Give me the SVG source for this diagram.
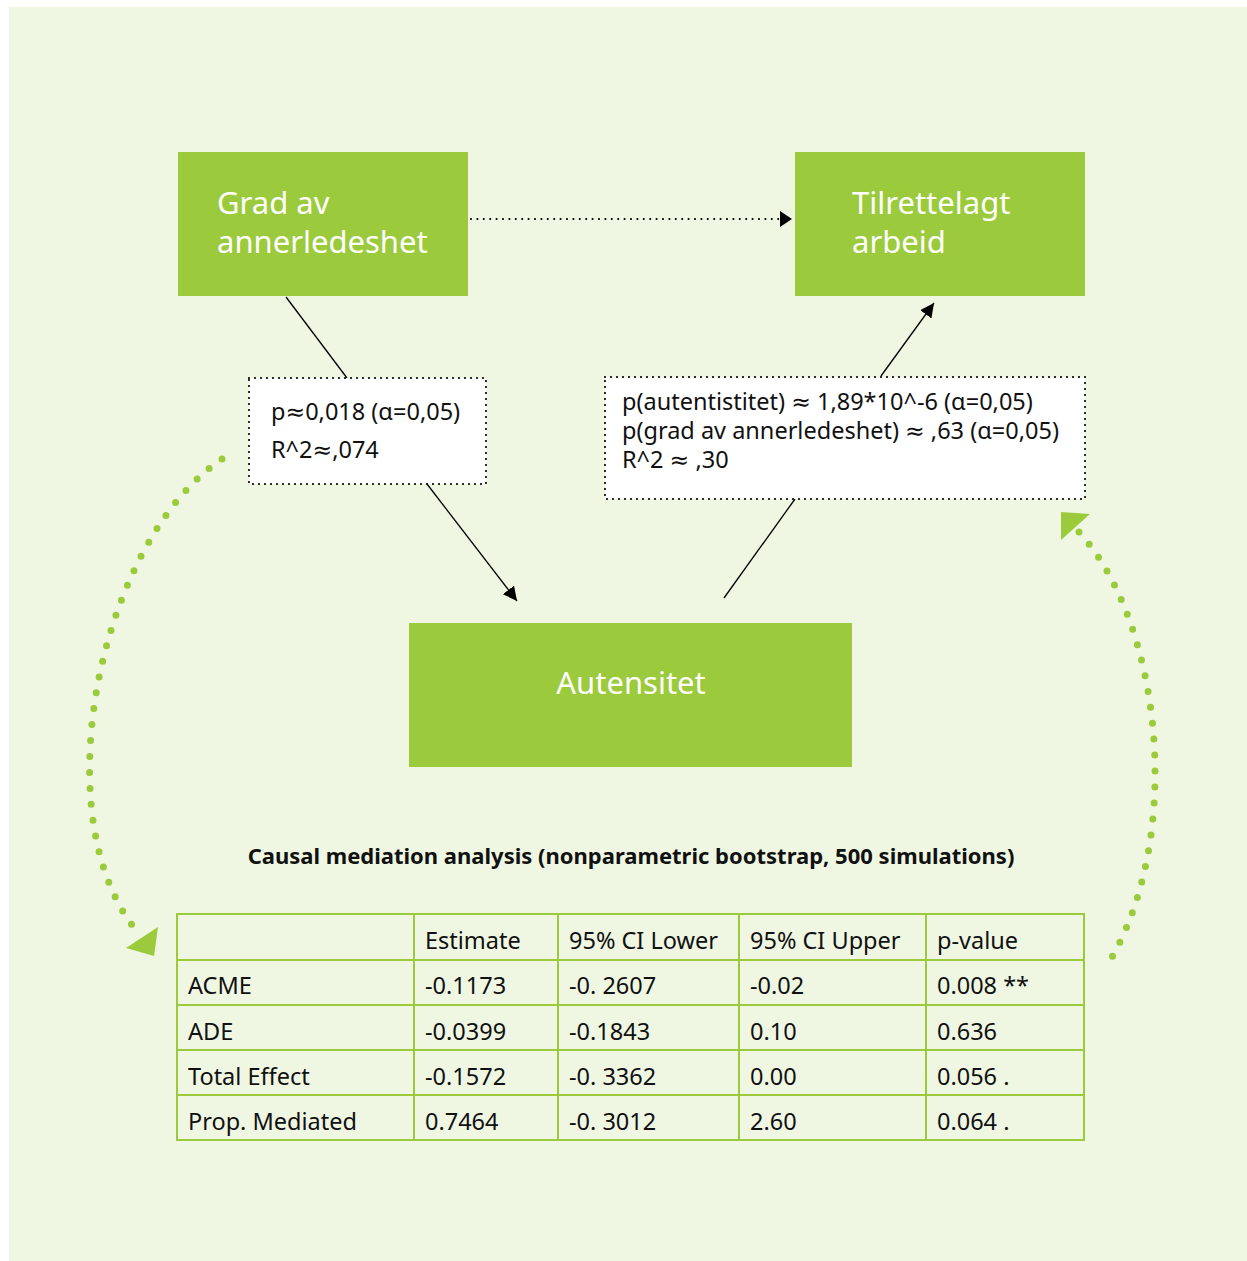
<svg xmlns="http://www.w3.org/2000/svg" width="1247" height="1261" viewBox="0 0 1247 1261">
<defs>
<style>
.node{fill:#9BCB3C}
.ntext{font-family:"Noto Sans","DejaVu Sans",sans-serif;font-size:31px;fill:#ffffff}
.lbox{fill:#ffffff;stroke:#000;stroke-width:2.2;stroke-dasharray:0 6;stroke-linecap:round}
.ltext{font-family:"Noto Sans","DejaVu Sans",sans-serif;font-size:23.5px;fill:#111}
.edge{fill:none;stroke:#000;stroke-width:1.3}
.dotted{fill:none;stroke:#000;stroke-width:2.2;stroke-dasharray:0 6.4;stroke-linecap:round}
.garc{fill:none;stroke:#9BCB3C;stroke-width:7;stroke-dasharray:0 16;stroke-linecap:round}
.gtri{fill:#9BCB3C}
.tline{stroke:#9BCB3C;stroke-width:2;fill:none}
.ttext{font-family:"Noto Sans","DejaVu Sans",sans-serif;font-size:23.5px;fill:#111}
.title{font-family:"Noto Sans","DejaVu Sans",sans-serif;font-size:22px;font-weight:bold;fill:#111}
</style>
<marker id="ahb" viewBox="0 0 10 10" refX="10" refY="5" markerWidth="14" markerHeight="14" markerUnits="userSpaceOnUse" orient="auto">
<path d="M0,0 L10,5 L0,10 Z" fill="#000"/>
</marker>
</defs>
<rect x="0" y="0" width="1247" height="1261" fill="#ffffff"/>
<rect x="9" y="7" width="1238" height="1254" fill="#EFF7E3"/>

<g id="connectors">
<path class="dotted" d="M471,219 L780,219"/>
<path d="M780,211 L792,219 L780,227 Z" fill="#000"/>
<path class="edge" d="M286,297 L347,378"/>
<path class="edge" d="M427,484 L517,601" marker-end="url(#ahb)"/>
<path class="edge" d="M724,598 L795,499"/>
<path class="edge" d="M881,376 L934,303" marker-end="url(#ahb)"/>
<path class="garc" d="M222,459 C100,540 40,820 140,935"/>
<polygon class="gtri" points="126,948 158,927 154,956"/>
<path class="garc" d="M1079,532 C1160,620 1185,830 1111,959"/>
<polygon class="gtri" points="1061,512 1090,514 1061,540"/>
</g>

<g id="node-grad">
<rect class="node" x="178" y="152" width="290" height="144"/>
<text class="ntext" x="217" y="214">Grad av</text>
<text class="ntext" x="217" y="253">annerledeshet</text>
</g>

<g id="node-tilrettelagt">
<rect class="node" x="795" y="152" width="290" height="144"/>
<text class="ntext" x="852" y="214">Tilrettelagt</text>
<text class="ntext" x="852" y="253">arbeid</text>
</g>

<g id="node-autensitet">
<rect class="node" x="409" y="623" width="443" height="144"/>
<text class="ntext" x="631" y="694" text-anchor="middle">Autensitet</text>
</g>

<g id="label-a">
<rect class="lbox" x="249" y="378" width="237" height="106"/>
<text class="ltext" x="271" y="420">p≈0,018 (α=0,05)</text>
<text class="ltext" x="271" y="458">R^2≈,074</text>
</g>

<g id="label-b">
<rect class="lbox" x="605" y="377" width="480" height="122"/>
<text class="ltext" x="622" y="410">p(autentistitet) ≈ 1,89*10^-6 (α=0,05)</text>
<text class="ltext" x="622" y="439">p(grad av annerledeshet) ≈ ,63 (α=0,05)</text>
<text class="ltext" x="622" y="468">R^2 ≈ ,30</text>
</g>

<g id="title">
<text class="title" x="631" y="864" text-anchor="middle">Causal mediation analysis (nonparametric bootstrap, 500 simulations)</text>
</g>

<g id="table">
<rect class="tline" x="177" y="914" width="907" height="226"/>
<line class="tline" x1="177" y1="960" x2="1084" y2="960"/>
<line class="tline" x1="177" y1="1005" x2="1084" y2="1005"/>
<line class="tline" x1="177" y1="1050" x2="1084" y2="1050"/>
<line class="tline" x1="177" y1="1095" x2="1084" y2="1095"/>
<line class="tline" x1="414" y1="914" x2="414" y2="1140"/>
<line class="tline" x1="558" y1="914" x2="558" y2="1140"/>
<line class="tline" x1="739" y1="914" x2="739" y2="1140"/>
<line class="tline" x1="926" y1="914" x2="926" y2="1140"/>
<text class="ttext" x="425" y="949">Estimate</text>
<text class="ttext" x="569" y="949">95% CI Lower</text>
<text class="ttext" x="750" y="949">95% CI Upper</text>
<text class="ttext" x="937" y="949">p-value</text>
<text class="ttext" x="188" y="994">ACME</text>
<text class="ttext" x="425" y="994">-0.1173</text>
<text class="ttext" x="569" y="994">-0. 2607</text>
<text class="ttext" x="750" y="994">-0.02</text>
<text class="ttext" x="937" y="994">0.008 **</text>
<text class="ttext" x="188" y="1040">ADE</text>
<text class="ttext" x="425" y="1040">-0.0399</text>
<text class="ttext" x="569" y="1040">-0.1843</text>
<text class="ttext" x="750" y="1040">0.10</text>
<text class="ttext" x="937" y="1040">0.636</text>
<text class="ttext" x="188" y="1085">Total Effect</text>
<text class="ttext" x="425" y="1085">-0.1572</text>
<text class="ttext" x="569" y="1085">-0. 3362</text>
<text class="ttext" x="750" y="1085">0.00</text>
<text class="ttext" x="937" y="1085">0.056 .</text>
<text class="ttext" x="188" y="1130">Prop. Mediated</text>
<text class="ttext" x="425" y="1130">0.7464</text>
<text class="ttext" x="569" y="1130">-0. 3012</text>
<text class="ttext" x="750" y="1130">2.60</text>
<text class="ttext" x="937" y="1130">0.064 .</text>
</g>
</svg>
